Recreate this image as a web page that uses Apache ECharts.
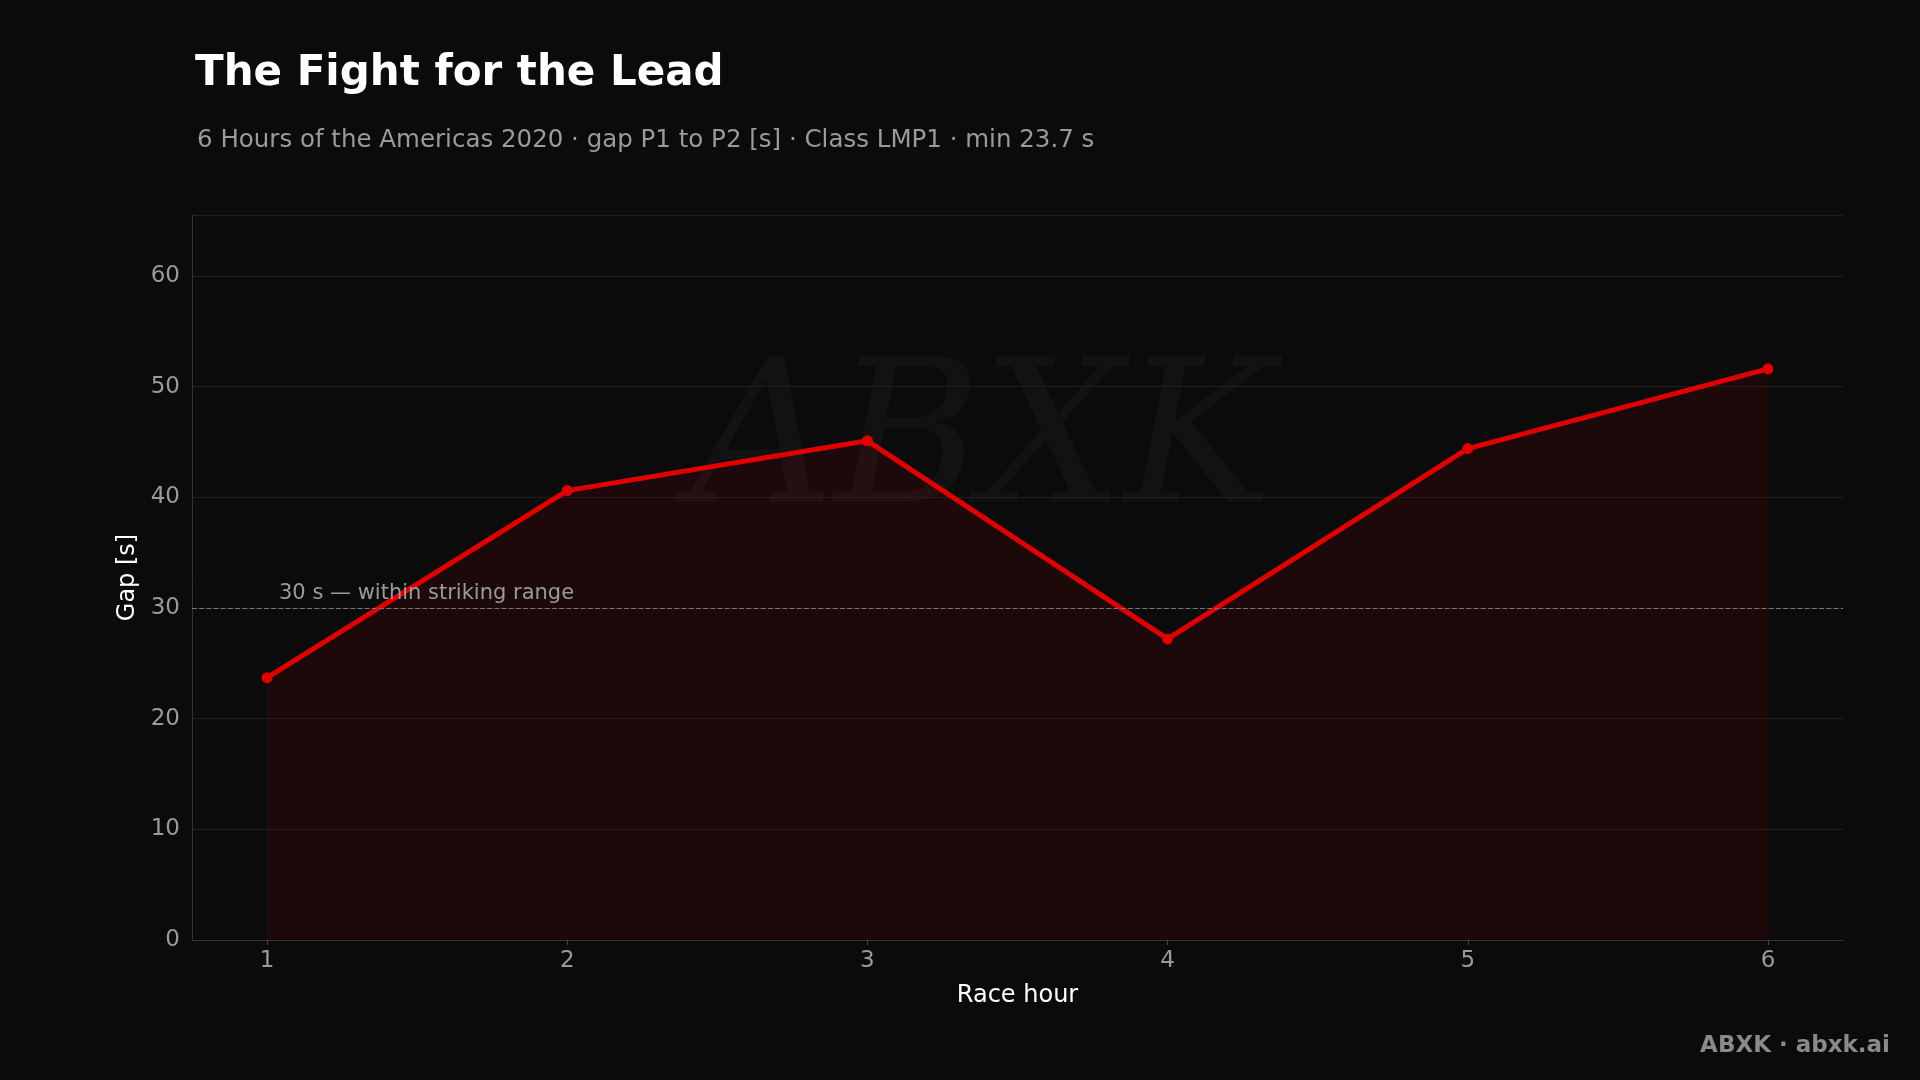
<!DOCTYPE html>
<html>
<head>
<meta charset="utf-8">
<script src="https://cdn.jsdelivr.net/npm/echarts@6/dist/echarts.min.js"></script>
<style>
  html, body { margin: 0; padding: 0; background: #0b0b0b; }
  #chart { width: 1920px; height: 1080px; }
</style>
</head>
<body>
<div id="chart"></div>
<script>
const raceHours = [1, 2, 3, 4, 5, 6];
const gapSeconds = [23.7, 40.6, 45.1, 27.2, 44.4, 51.6];
const thresholdValue = 30;
const thresholdLabel = '30 s — within striking range';

const chart = echarts.init(document.getElementById('chart'));
const font = 'DejaVu Sans';

chart.setOption({
  backgroundColor: '#0b0b0b',
  textStyle: { fontFamily: font },
  title: [
    {
      text: 'The Fight for the Lead',
      left: 190, top: 48,
      textStyle: { color: '#ffffff', fontSize: 42, fontWeight: 'bold', fontFamily: font }
    },
    {
      text: '6 Hours of the Americas 2020 · gap P1 to P2 [s] · Class LMP1 · min 23.7 s',
      left: 192, top: 123,
      textStyle: { color: '#9a9a9a', fontSize: 24.5, fontWeight: 'normal', fontFamily: font }
    }
  ],
  graphic: [
    {
      type: 'text', left: 690, top: 350,
      style: { text: 'ABXK', fill: 'rgba(255,255,255,0.03)', font: 'italic 200px DejaVu Serif' }
    },
    {
      type: 'text', right: 30, bottom: 22,
      style: { text: 'ABXK · abxk.ai', fill: '#8a8a8a', font: 'bold 23px DejaVu Sans' }
    }
  ],
  grid: { left: 192, right: 77, top: 215, bottom: 140 },
  xAxis: {
    type: 'value',
    min: 0.75, max: 6.25, interval: 1,
    name: 'Race hour', nameLocation: 'middle', nameGap: 44,
    nameTextStyle: { color: '#ffffff', fontSize: 24 },
    axisLine: { show: true, lineStyle: { color: '#333' } },
    axisTick: { show: true, customValues: raceHours, lineStyle: { color: '#444' } },
    splitLine: { show: false },
    axisLabel: {
      color: '#9a9a9a', fontSize: 23, margin: 10,
      customValues: raceHours,
      formatter: (v) => String(v)
    }
  },
  yAxis: {
    type: 'value',
    min: 0, max: 65.5, interval: 10,
    name: 'Gap [s]', nameLocation: 'middle', nameGap: 52, nameRotate: 90,
    nameTextStyle: { color: '#ffffff', fontSize: 24 },
    axisLine: { show: true, lineStyle: { color: '#333' } },
    axisTick: { show: false },
    splitLine: { lineStyle: { color: '#1f1f1f' } },
    axisLabel: {
      color: '#9a9a9a', fontSize: 23, margin: 12,
      formatter: (v) => (v % 10 === 0 ? String(v) : '')
    }
  },
  series: [
    {
      type: 'line',
      data: raceHours.map((h, i) => [h, gapSeconds[i]]),
      symbol: 'circle', symbolSize: 11,
      lineStyle: { color: '#e00000', width: 5 },
      itemStyle: { color: '#e00000' },
      areaStyle: { color: 'rgba(200,0,0,0.14)' },
      markLine: {
        silent: true, symbol: 'none',
        lineStyle: { color: '#777', type: 'dashed', width: 1.2 },
        label: {
          formatter: thresholdLabel, position: 'insideStartTop',
          color: '#9a9a9a', fontSize: 21, distance: [87, 4]
        },
        data: [{ yAxis: thresholdValue }]
      }
    }
  ]
});
</script>
</body>
</html>
